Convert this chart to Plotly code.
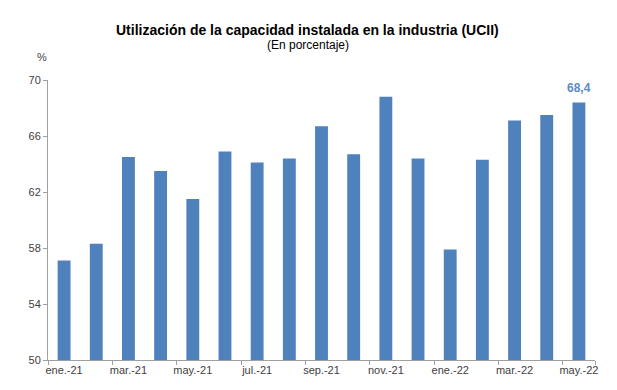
import plotly.graph_objects as go

months = ["ene.-21", "feb.-21", "mar.-21", "abr.-21", "may.-21", "jun.-21", "jul.-21",
          "ago.-21", "sep.-21", "oct.-21", "nov.-21", "dic.-21", "ene.-22", "feb.-22",
          "mar.-22", "abr.-22", "may.-22"]
ucii = [57.1, 58.3, 64.5, 63.5, 61.5, 64.9, 64.1, 64.4, 66.7, 64.7, 68.8, 64.4,
        57.9, 64.3, 67.1, 67.5, 68.4]
tick_labels = months[::2]
y_ticks = [50, 54, 58, 62, 66, 70]

bar_color = "#4f81bd"
font_family = "Liberation Sans, Arial, sans-serif"

fig = go.Figure(go.Bar(
    x=months, y=ucii, marker_color=bar_color, marker_line_width=0,
))

fig.update_layout(
    width=617, height=390,
    margin=dict(l=40, r=30, t=72, b=38, autoexpand=False),
    paper_bgcolor="white", plot_bgcolor="white",
    bargap=0.6, showlegend=False,
    font=dict(family=font_family, color="#404040", size=11),
    annotations=[
        dict(text="<b>Utilización de la capacidad instalada en la industria (UCII)</b>",
             xref="paper", yref="paper", x=0.475, y=1.1786, yanchor="middle",
             showarrow=False, font=dict(size=14, color="#000000")),
        dict(text="(En porcentaje)",
             xref="paper", yref="paper", x=0.475, y=1.125, yanchor="middle",
             showarrow=False, font=dict(size=12, color="#000000")),
        dict(text="%", xref="paper", yref="paper", x=-0.024, y=1.082, yanchor="middle",
             showarrow=False, font=dict(size=11, color="#404040")),
        dict(text=f"<b>{ucii[-1]:.1f}</b>".replace(".", ","), x=months[-1], y=ucii[-1],
             xref="x", yref="y", yanchor="bottom", yshift=5, showarrow=False,
             font=dict(size=12, color="#5b8ac6")),
    ],
)

fig.update_xaxes(
    type="category", tickvals=tick_labels, ticktext=tick_labels, tickangle=0,
    automargin=False,
    tickson="boundaries", ticks="outside", ticklen=4, tickcolor="#a0a0a0",
    showline=True, linecolor="#a0a0a0", linewidth=1, showgrid=False,
    tickfont=dict(size=11, color="#404040"),
)
fig.update_yaxes(
    range=[50, 70], tickvals=y_ticks, ticks="outside", ticklen=4, tickcolor="#a0a0a0",
    automargin=False,
    showline=True, linecolor="#a0a0a0", linewidth=1, showgrid=False, zeroline=False,
    tickfont=dict(size=11, color="#404040"),
)

fig.write_html("out.html")
